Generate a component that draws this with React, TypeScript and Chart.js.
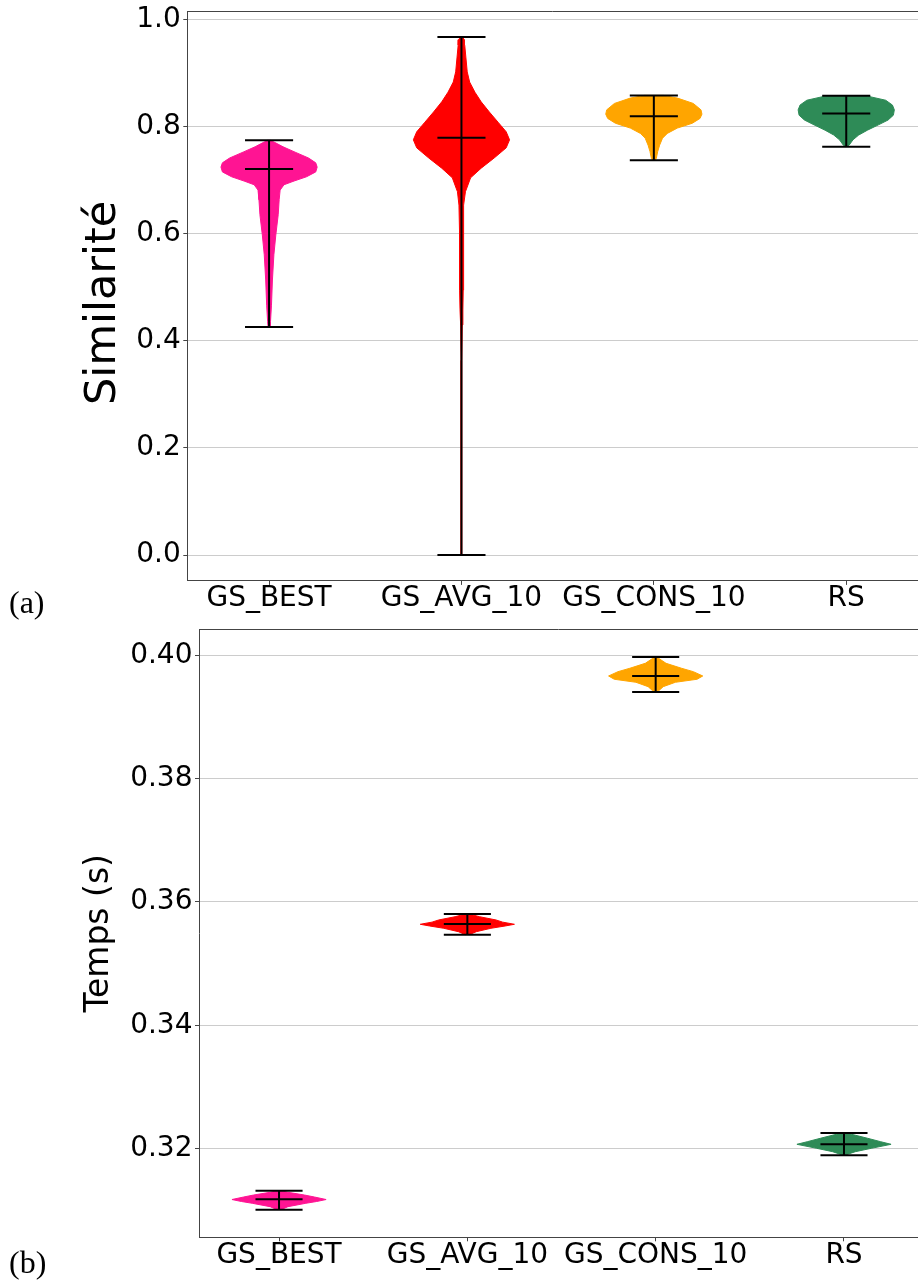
import React, { useEffect, useRef } from 'react';
import { Chart, registerables } from 'chart.js';

Chart.register(...registerables);

// ---------------- data ----------------
const categories = ['GS_BEST', 'GS_AVG_10', 'GS_CONS_10', 'RS'];
const positions = [1, 2, 3, 4];
const violinColors = ['#FF1493', '#FF0000', '#FFA500', '#2E8B57'];

// (a) Similarité
const simTicks = [0.0, 0.2, 0.4, 0.6, 0.8, 1.0];
const simMins = [0.426, 0.0, 0.738, 0.763];
const simMaxs = [0.775, 0.968, 0.859, 0.8585];
const simMedians = [0.7215, 0.78, 0.82, 0.825];

const simBestLevels = [0.426, 0.436, 0.467, 0.514, 0.561, 0.598, 0.636, 0.664, 0.682, 0.692, 0.699, 0.707, 0.716, 0.725, 0.733, 0.742, 0.753, 0.763, 0.772, 0.775];
const simBestWidths = [0.02, 0.03, 0.05, 0.07, 0.10, 0.14, 0.19, 0.21, 0.23, 0.31, 0.52, 0.78, 0.97, 1.0, 0.97, 0.82, 0.54, 0.29, 0.10, 0.03];

const simAvgLevels = [0.0, 0.364, 0.430, 0.458, 0.495, 0.551, 0.607, 0.654, 0.679, 0.705, 0.723, 0.742, 0.761, 0.776, 0.791, 0.809, 0.828, 0.847, 0.865, 0.884, 0.903, 0.929, 0.953, 0.963, 0.968];
const simAvgWidths = [0.006, 0.008, 0.017, 0.03, 0.037, 0.041, 0.041, 0.052, 0.083, 0.19, 0.41, 0.68, 0.93, 1.0, 0.93, 0.76, 0.58, 0.41, 0.28, 0.17, 0.12, 0.093, 0.068, 0.062, 0.02];

const simConsLevels = [0.738, 0.741, 0.754, 0.766, 0.779, 0.788, 0.798, 0.807, 0.816, 0.824, 0.832, 0.844, 0.854, 0.859];
const simConsWidths = [0.03, 0.05, 0.08, 0.12, 0.18, 0.28, 0.49, 0.80, 0.96, 1.0, 0.98, 0.82, 0.49, 0.2];

const simRsLevels = [0.763, 0.766, 0.776, 0.785, 0.794, 0.804, 0.813, 0.822, 0.832, 0.841, 0.850, 0.8585];
const simRsWidths = [0.02, 0.06, 0.14, 0.26, 0.44, 0.67, 0.87, 0.98, 1.0, 0.96, 0.82, 0.4];

// (b) Temps (s)
const timeTicks = [0.32, 0.34, 0.36, 0.38, 0.40];
const timeMins = [0.31007, 0.35469, 0.39408, 0.3189];
const timeMaxs = [0.31315, 0.35805, 0.39976, 0.32252];
const timeMedians = [0.31176, 0.35643, 0.39667, 0.32068];

const timeBestLevels = [0.31007, 0.31056, 0.31111, 0.3114, 0.31172, 0.31213, 0.31245, 0.31289, 0.31315];
const timeBestWidths = [0.04, 0.19, 0.57, 0.8, 1.0, 0.75, 0.54, 0.19, 0.04];

const timeAvgLevels = [0.35469, 0.35518, 0.35573, 0.3561, 0.35638, 0.35673, 0.35708, 0.35761, 0.35805];
const timeAvgWidths = [0.04, 0.19, 0.5, 0.8, 1.0, 0.75, 0.61, 0.26, 0.04];

const timeConsLevels = [0.39408, 0.39424, 0.39494, 0.39565, 0.39614, 0.39667, 0.39737, 0.39792, 0.39873, 0.39955, 0.39976];
const timeConsWidths = [0.04, 0.06, 0.16, 0.42, 0.88, 1.0, 0.8, 0.55, 0.22, 0.06, 0.04];

const timeRsLevels = [0.3189, 0.31899, 0.31948, 0.32003, 0.32068, 0.3211, 0.32166, 0.32235, 0.32252];
const timeRsWidths = [0.03, 0.05, 0.24, 0.58, 1.0, 0.78, 0.5, 0.14, 0.06];

// ---------------- chart building ----------------
const FONT = 'DejaVu Sans';
const SPINE = '#444444';

type PanelSpec = {
  width: number;
  height: number;
  areaLeft: number;
  areaTop: number;
  areaBottom: number;
  xMin: number;
  xMax: number;
  yMin: number;
  yMax: number;
  yTicks: number[];
  decimals: number;
  title: string;
  titleSize: number;
  titlePad: number;
  mins: number[];
  maxs: number[];
  medians: number[];
  levels: number[][];
  widths: number[][];
};

const topSpinePlugin = {
  id: 'topSpine',
  afterDatasetsDraw(chart: any) {
    const { ctx, chartArea } = chart;
    ctx.save();
    ctx.strokeStyle = SPINE;
    ctx.lineWidth = 1;
    ctx.beginPath();
    const y = Math.round(chartArea.top) + 0.5;
    ctx.moveTo(chartArea.left, y);
    ctx.lineTo(chartArea.right, y);
    ctx.stroke();
    ctx.restore();
  },
};

function buildDatasets(spec: PanelSpec) {
  const halfWidth = 0.25;
  const capHalf = 0.125;
  const datasets: any[] = [];
  const line = (pts: { x: number; y: number }[]) => ({
    data: pts,
    showLine: true,
    borderColor: '#000000',
    borderWidth: 2,
    pointRadius: 0,
    pointHoverRadius: 0,
    fill: false,
    order: 0,
  });
  positions.forEach((pos, i) => {
    const lv = spec.levels[i];
    const wd = spec.widths[i];
    const right = lv.map((y, k) => ({ x: pos + wd[k] * halfWidth, y }));
    const left = lv.map((y, k) => ({ x: pos - wd[k] * halfWidth, y })).reverse();
    datasets.push({
      data: [...right, ...left],
      showLine: true,
      borderColor: violinColors[i],
      borderWidth: 1,
      backgroundColor: violinColors[i],
      pointRadius: 0,
      pointHoverRadius: 0,
      fill: 'shape',
      tension: 0,
      order: 1,
    });
    datasets.push(line([{ x: pos, y: spec.mins[i] }, { x: pos, y: spec.maxs[i] }]));
    [spec.mins[i], spec.maxs[i], spec.medians[i]].forEach((v) => {
      datasets.push(line([{ x: pos - capHalf, y: v }, { x: pos + capHalf, y: v }]));
    });
  });
  return datasets;
}

function ViolinPanel({ spec, top }: { spec: PanelSpec; top: number }) {
  const ref = useRef<HTMLCanvasElement | null>(null);
  useEffect(() => {
    if (!ref.current) return;
    const tickFont = { family: FONT, size: 28, lineHeight: 1 };
    const chart = new Chart(ref.current, {
      type: 'scatter',
      data: { datasets: buildDatasets(spec) },
      plugins: [topSpinePlugin],
      options: {
        responsive: false,
        animation: false,
        events: [],
        layout: { autoPadding: false, padding: { top: spec.areaTop, left: 0, right: 0, bottom: 0 } },
        plugins: { legend: { display: false }, tooltip: { enabled: false } },
        scales: {
          x: {
            type: 'linear',
            min: spec.xMin,
            max: spec.xMax,
            afterBuildTicks: (s: any) => {
              s.ticks = positions.map((v) => ({ value: v }));
            },
            afterFit: (s: any) => {
              s.height = spec.height - spec.areaBottom;
              s.paddingLeft = 0;
              s.paddingRight = 0;
            },
            ticks: {
              callback: (v: any) => categories[Math.round(Number(v)) - 1] ?? '',
              font: tickFont,
              color: '#000000',
              padding: 0,
              maxRotation: 0,
              minRotation: 0,
              autoSkip: false,
            },
            grid: { drawOnChartArea: false, drawTicks: true, tickLength: 4, tickColor: SPINE },
            border: { display: true, color: SPINE, width: 1 },
          },
          y: {
            type: 'linear',
            min: spec.yMin,
            max: spec.yMax,
            afterBuildTicks: (s: any) => {
              s.ticks = spec.yTicks.map((v) => ({ value: v }));
            },
            afterFit: (s: any) => {
              s.width = spec.areaLeft;
              s.paddingTop = 0;
              s.paddingBottom = 0;
            },
            ticks: {
              callback: (v: any) => Number(v).toFixed(spec.decimals),
              font: tickFont,
              color: '#000000',
              padding: 2.5,
            },
            grid: { color: '#cccccc', lineWidth: 1, drawTicks: true, tickLength: 4, tickColor: SPINE },
            border: { display: true, color: SPINE, width: 1 },
            title: {
              display: true,
              text: spec.title,
              color: '#000000',
              font: { family: FONT, size: spec.titleSize },
              padding: { top: spec.titlePad, bottom: 0 },
            },
          },
        },
      } as any,
    });
    return () => chart.destroy();
  }, [spec]);
  return (
    <canvas
      ref={ref}
      width={spec.width}
      height={spec.height}
      style={{ position: 'absolute', left: 0, top, width: spec.width, height: spec.height, display: 'block' }}
    />
  );
}

const topSpec: PanelSpec = {
  width: 918,
  height: 625,
  areaLeft: 187.3,
  areaTop: 11.2,
  areaBottom: 580.9,
  xMin: 0.575,
  xMax: 4.373,
  yMin: -0.0484,
  yMax: 1.0164,
  yTicks: simTicks,
  decimals: 1,
  title: 'Similarité ',
  titleSize: 43,
  titlePad: 78,
  mins: simMins,
  maxs: simMaxs,
  medians: simMedians,
  levels: [simBestLevels, simAvgLevels, simConsLevels, simRsLevels],
  widths: [simBestWidths, simAvgWidths, simConsWidths, simRsWidths],
};

const bottomSpec: PanelSpec = {
  width: 918,
  height: 664,
  areaLeft: 199,
  areaTop: 9.3,
  areaBottom: 617.3,
  xMin: 0.575,
  xMax: 4.393,
  yMin: 0.30559,
  yMax: 0.404245,
  yTicks: timeTicks,
  decimals: 2,
  title: 'Temps (s)',
  titleSize: 33,
  titlePad: 80,
  mins: timeMins,
  maxs: timeMaxs,
  medians: timeMedians,
  levels: [timeBestLevels, timeAvgLevels, timeConsLevels, timeRsLevels],
  widths: [timeBestWidths, timeAvgWidths, timeConsWidths, timeRsWidths],
};

const panelLabel: React.CSSProperties = {
  position: 'absolute',
  left: 9,
  fontFamily: '"Liberation Serif", "DejaVu Serif", serif',
  fontSize: 32,
  lineHeight: '32px',
  color: '#000',
  whiteSpace: 'nowrap',
};

export default function App() {
  return (
    <div
      style={{
        position: 'absolute',
        left: 0,
        top: 0,
        width: 918,
        height: 1284,
        overflow: 'hidden',
        background: '#ffffff',
      }}
    >
      <ViolinPanel spec={topSpec} top={0} />
      <ViolinPanel spec={bottomSpec} top={620} />
      <div style={{ ...panelLabel, top: 586 }}>(a)</div>
      <div style={{ ...panelLabel, top: 1246 }}>(b)</div>
    </div>
  );
}
